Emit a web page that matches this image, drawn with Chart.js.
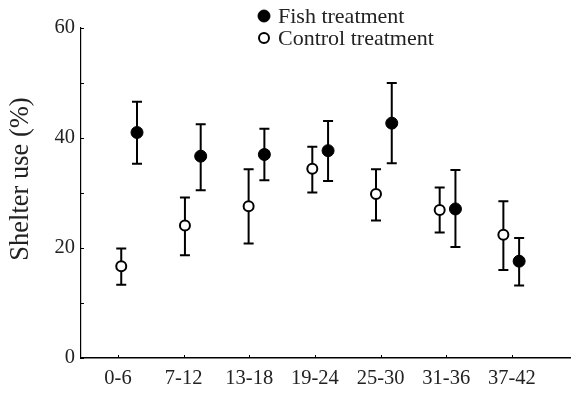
<!DOCTYPE html>
<html>
<head>
<meta charset="utf-8">
<script src="https://cdn.jsdelivr.net/npm/chart.js@4.4.1/dist/chart.umd.min.js"></script>
<style>
  html, body { margin: 0; padding: 0; background: #fff; overflow: hidden; }
  canvas { display: block; }
</style>
</head>
<body>
<canvas id="chart" width="571" height="394"></canvas>
<script>
// ================= DATA =================
const categories = ["0-6", "7-12", "13-18", "19-24", "25-30", "31-36", "37-42"];

const fishMean  = [41.0, 36.7, 37.0, 37.7, 42.7, 27.1, 17.6];
const fishUpper = [46.6, 42.5, 41.7, 43.1, 50.0, 34.2, 21.8];
const fishLower = [35.3, 30.5, 32.3, 32.2, 35.4, 20.2, 13.2];

const controlMean  = [16.7, 24.1, 27.6, 34.4, 29.8, 26.9, 22.4];
const controlUpper = [19.9, 29.2, 34.3, 38.4, 34.3, 31.0, 28.5];
const controlLower = [13.3, 18.7, 20.8, 30.1, 25.0, 22.8, 16.0];

const yLabelTicks = [0, 20, 40, 60];

// dodge: control a bit left, fish a bit right of each group
const groupStep = 0.97;
const controlShift = 0.05;
const fishShift = 0.29;

const textColor = "#222";
const serif = "'Liberation Serif', 'Times New Roman', serif";

function toPoints(means, shift) {
  return means.map((v, i) => ({ x: i * groupStep + shift, y: v }));
}

// ================= PLUGINS =================
const errorBars = {
  id: "errorBars",
  beforeDatasetsDraw(chart) {
    const { ctx, scales: { x, y } } = chart;
    ctx.save();
    ctx.strokeStyle = "#000";
    ctx.lineWidth = 2;
    chart.data.datasets.forEach(ds => {
      ds.data.forEach((p, i) => {
        const px = x.getPixelForValue(p.x);
        const top = y.getPixelForValue(ds.upper[i]);
        const bot = y.getPixelForValue(ds.lower[i]);
        ctx.beginPath();
        ctx.moveTo(px, top); ctx.lineTo(px, bot);
        ctx.moveTo(px - 5, top); ctx.lineTo(px + 5, top);
        ctx.moveTo(px - 5, bot); ctx.lineTo(px + 5, bot);
        ctx.stroke();
      });
    });
    ctx.restore();
  }
};

const extras = {
  id: "extras",
  afterDraw(chart) {
    const { ctx, chartArea, scales: { x, y } } = chart;
    ctx.save();

    // inner ticks
    ctx.strokeStyle = "#000";
    ctx.lineWidth = 1;
    y.ticks.forEach(t => {
      const py = Math.round(y.getPixelForValue(t.value)) + 0.5;
      ctx.beginPath();
      ctx.moveTo(chartArea.left, py); ctx.lineTo(chartArea.left + 3, py);
      ctx.stroke();
    });
    x.ticks.forEach(t => {
      const px = Math.round(x.getPixelForValue(t.value)) + 0.5;
      ctx.beginPath();
      ctx.moveTo(px, chartArea.bottom); ctx.lineTo(px, chartArea.bottom - 3);
      ctx.stroke();
    });

    // y title
    ctx.fillStyle = textColor;
    ctx.font = "26.5px " + serif;
    ctx.textAlign = "center";
    ctx.textBaseline = "alphabetic";
    ctx.translate(28, 179);
    ctx.rotate(-Math.PI / 2);
    ctx.fillText("Shelter use (%)", 0, 0);
    ctx.setTransform(1, 0, 0, 1, 0, 0);

    // legend
    const rows = [16, 38];
    chart.data.datasets.forEach((ds, k) => {
      const cy = rows[k];
      ctx.beginPath();
      ctx.arc(264, cy, ds.pointRadius, 0, Math.PI * 2);
      ctx.fillStyle = ds.backgroundColor;
      ctx.fill();
      ctx.lineWidth = ds.borderWidth;
      ctx.strokeStyle = ds.borderColor;
      ctx.stroke();
      ctx.fillStyle = textColor;
      ctx.font = "22px " + serif;
      ctx.textAlign = "left";
      ctx.textBaseline = "alphabetic";
      ctx.fillText(ds.label, 278, cy + 7);
    });

    ctx.restore();
  }
};

// ================= CHART =================
const ctx = document.getElementById("chart").getContext("2d");

new Chart(ctx, {
  type: "scatter",
  data: {
    datasets: [
      {
        label: "Fish treatment",
        data: toPoints(fishMean, fishShift),
        upper: fishUpper,
        lower: fishLower,
        pointRadius: 6,
        pointHoverRadius: 6,
        backgroundColor: "#000",
        borderColor: "#000",
        borderWidth: 1
      },
      {
        label: "Control treatment",
        data: toPoints(controlMean, controlShift),
        upper: controlUpper,
        lower: controlLower,
        pointRadius: 5,
        pointHoverRadius: 5,
        backgroundColor: "#fff",
        borderColor: "#000",
        borderWidth: 2
      }
    ]
  },
  options: {
    responsive: false,
    animation: false,
    devicePixelRatio: 1,
    layout: { autoPadding: false, padding: { top: 28, right: 0, left: 0, bottom: 0 } },
    plugins: {
      legend: { display: false },
      tooltip: { enabled: false }
    },
    scales: {
      x: {
        type: "linear",
        min: -0.563,
        max: 6.9,
        afterBuildTicks: scale => {
          scale.ticks = categories.map((c, i) => ({ value: i }));
        },
        afterFit: scale => {
          scale.height = 36;
        },
        grid: { display: false, drawTicks: false },
        border: { display: true, color: "#000", width: 1.5 },
        ticks: {
          color: textColor,
          padding: 8,
          font: { family: serif, size: 20.5 },
          maxRotation: 0,
          callback: v => categories[v]
        }
      },
      y: {
        min: 0,
        max: 60,
        afterBuildTicks: scale => {
          scale.ticks = [0, 10, 20, 30, 40, 50, 60].map(v => ({ value: v }));
        },
        afterFit: scale => { scale.width = 81; },
        grid: { display: false, drawTicks: false },
        border: { display: true, color: "#000", width: 1.2 },
        ticks: {
          color: textColor,
          padding: 6,
          font: { family: serif, size: 20.5 },
          callback: v => yLabelTicks.includes(v) ? v : ""
        }
      }
    }
  },
  plugins: [errorBars, extras]
});
</script>
</body>
</html>
